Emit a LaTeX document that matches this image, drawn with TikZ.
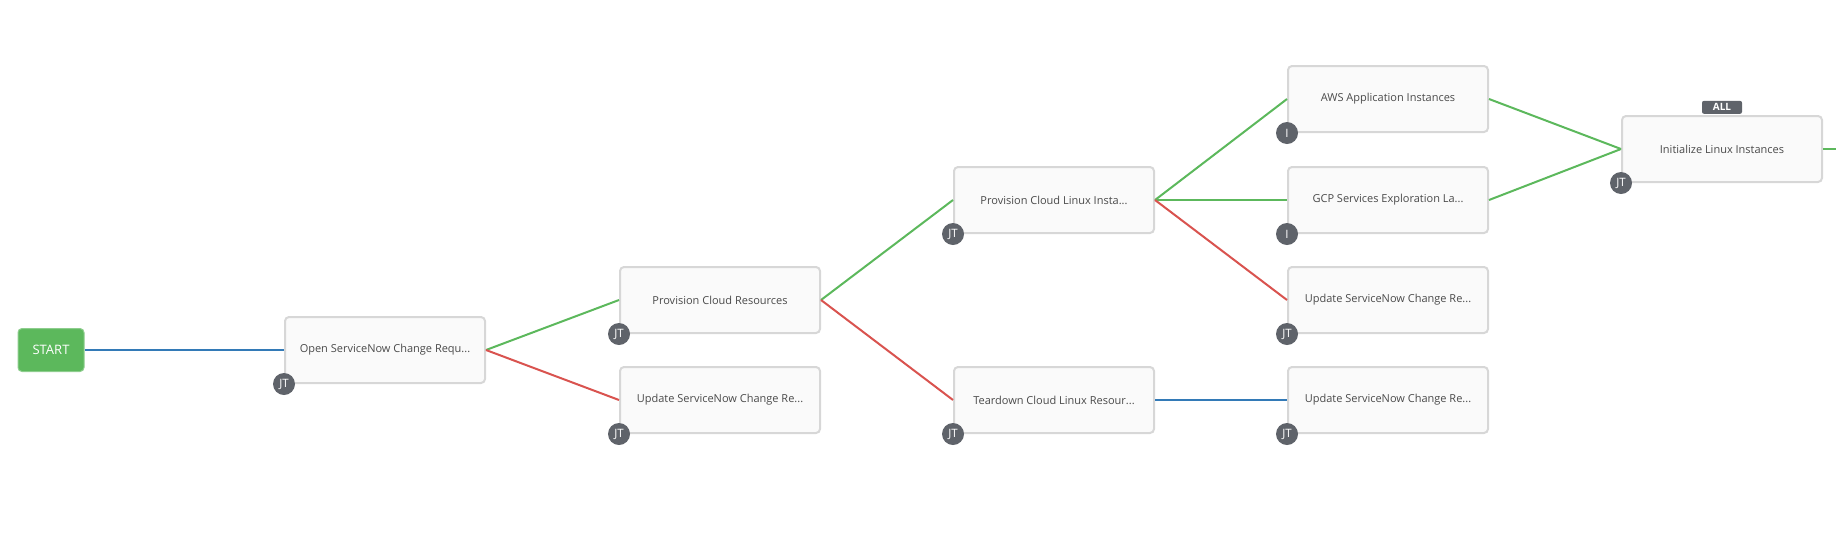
\documentclass[tikz,border=0pt]{standalone}
\usepackage{fontspec}
\setmainfont{Open Sans}
\definecolor{okgreen}{HTML}{5CB85C}
\definecolor{failred}{HTML}{D9534F}
\definecolor{alwaysblue}{HTML}{337AB7}
\definecolor{boxline}{HTML}{D7D7D7}
\definecolor{boxfill}{HTML}{FAFAFA}
\definecolor{badgegray}{HTML}{5F636A}
\definecolor{labeltext}{HTML}{4A4A4A}
\tikzset{
	job/.style={draw=boxline, fill=boxfill, line width=2pt, rounded corners=4pt, minimum width=200pt, minimum height=66pt, inner sep=0pt, text=labeltext, font=\fontsize{11}{13}\selectfont},
	badge/.style={circle, fill=badgegray, minimum size=22pt, inner sep=0pt, text=white, font=\fontsize{11.5}{13}\selectfont},
	link/.style={line width=2pt}
}
\begin{document}
\begin{tikzpicture}[x=1pt,y=-1pt]
		\useasboundingbox (0,0) rectangle (1836,542);
		\node[fill=okgreen, draw=okgreen!70!white, line width=1pt, rounded corners=4pt, minimum width=66pt, minimum height=43pt, text=white, font=\fontsize{13}{15}\selectfont](start) at (51,350){START};
		\foreach \n/\x/\y/\t in {open/385/350/{Open ServiceNow Change Requ...},
				provres/720/300/{Provision Cloud Resources}, upda/720/400/{Update ServiceNow Change Re...},
				provlin/1054/200/{Provision Cloud Linux Insta...}, teardown/1054/400/{Teardown Cloud Linux Resour...},
				aws/1388/99/{AWS Application Instances}, gcp/1388/200/{GCP Services Exploration La...},
				updb/1388/300/{Update ServiceNow Change Re...}, updc/1388/400/{Update ServiceNow Change Re...},
				init/1722/149/{Initialize Linux Instances}}{
			\node[job](\n) at (\x,\y){\t};
		}
		\coordinate (out) at (1836,149);
		%
		% Liens
		%
		\foreach \a/\b/\c in {start/open/alwaysblue, open/provres/okgreen, open/upda/failred,
				provres/provlin/okgreen, provres/teardown/failred, teardown/updc/alwaysblue,
				provlin/aws/okgreen, provlin/gcp/okgreen, provlin/updb/failred,
				aws/init/okgreen, gcp/init/okgreen}{
			\draw[link, color=\c] (\a.east) -- (\b.west);
		}
		\draw[link, color=okgreen] (init.east) -- (out);
		%
		% Badges
		%
		\foreach \n/\t in {open/JT, provres/JT, upda/JT, provlin/JT, teardown/JT, aws/I, gcp/I, updb/JT, updc/JT, init/JT}{
			\node[badge](\n-b) at (\n.south west){\t};
		}
		\node[fill=badgegray, rounded corners=2pt, minimum width=40pt, minimum height=13pt, inner sep=0pt, text=white, font=\fontsize{10}{11}\selectfont\bfseries, anchor=south](all) at ([yshift=1pt]init.north){ALL};
	\end{tikzpicture}
\end{document}
